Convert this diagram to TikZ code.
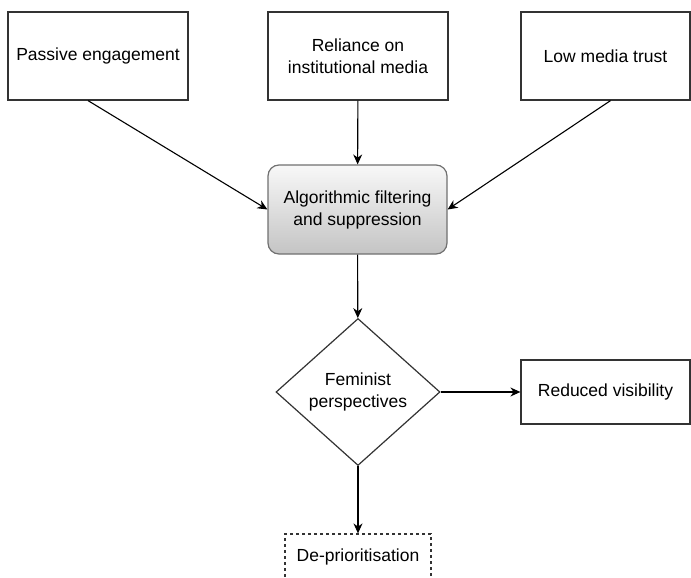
\documentclass[tikz,border=0pt]{standalone}
\usepackage{fontspec}
\setmainfont{Liberation Sans}
\usetikzlibrary{arrows.meta,shapes.geometric}

\definecolor{boxline}{HTML}{333333}
\definecolor{filterline}{HTML}{707070}
\definecolor{filtertop}{HTML}{F8F8F8}
\definecolor{filterbottom}{HTML}{C4C4C4}

\tikzset{
  cause/.style={draw=boxline, line width=1.2pt, fill=white, align=center,
    minimum width=180, minimum height=88, inner sep=0},
  filter/.style={draw=filterline, line width=1.2pt, rounded corners=11pt,
    top color=filtertop, bottom color=filterbottom, align=center,
    minimum width=179, minimum height=89, inner sep=0},
  decision/.style={draw=boxline, line width=1.2pt, diamond, aspect=1.12,
    align=center, minimum width=164, minimum height=147, inner sep=0},
  outcome/.style={draw=boxline, line width=1.2pt, align=center,
    minimum width=169, minimum height=64, inner sep=0},
  tentative/.style={outcome, dashed, minimum width=146, minimum height=46},
  link/.style={draw=black, line width=1.1pt, -{Stealth[length=10pt,width=9pt]}}
}

\begin{document}
\begin{tikzpicture}[x=1pt,y=-1pt,font=\fontsize{17.5}{22}\selectfont]
		\useasboundingbox (0,0) rectangle (691,578);
		\clip (0,0) rectangle (691,578);
		% three causes on top
		\node[cause] (passive) at (98,56) {Passive engagement};
		\node[cause] (reliance) at (358,56) {Reliance on\\institutional media};
		\node[cause, minimum width=169] (trust) at (605.5,56) {Low media trust};
		% filtering and the decision
		\node[filter] (filtering) at (357.5,209.5) {Algorithmic filtering\\and suppression};
		\node[decision] (feminist) at (358,392) {Feminist\\perspectives};
		% outcomes
		\node[outcome] (visibility) at (605.5,392) {Reduced visibility};
		\node[tentative] (deprior) at (358,557) {De-prioritisation};
		\draw[link] ([xshift=-10pt]passive.south) -- (filtering.west);
		\draw[link] (reliance) -- (filtering);
		\draw[link] ([xshift=5pt]trust.south) -- (filtering.east);
		\draw[link] (filtering) -- (feminist);
		\draw[link] (feminist) -- (visibility);
		\draw[link] (feminist) -- (deprior);
	\end{tikzpicture}
\end{document}
